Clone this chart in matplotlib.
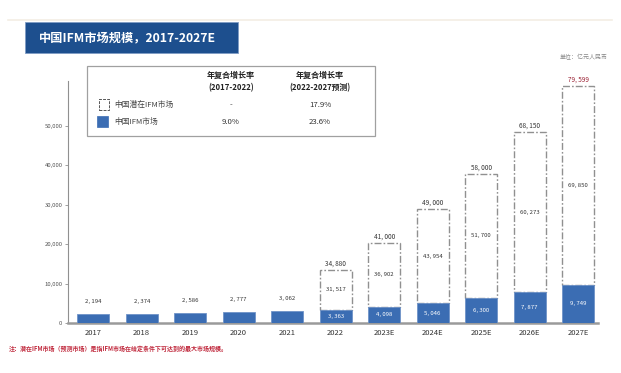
"""China IFM market size chart, 2017-2027E"""

import numpy as np
import matplotlib
matplotlib.use("Agg")
from matplotlib import pyplot as plt
from matplotlib.patches import Rectangle

plt.rcParams['font.family'] = ['Noto Sans CJK SC', 'DejaVu Sans']

# data
years = ["2017", "2018", "2019", "2020", "2021", "2022",
         "2023E", "2024E", "2025E", "2026E", "2027E"]
ifm = [2194, 2374, 2586, 2777, 3062, 3363, 4098, 5046, 6300, 7877, 9749]
potential = [None, None, None, None, None, 31517, 36902, 43954, 51700,
             60273, 69850]
total = [None, None, None, None, None, 34880, 41000, 49000, 58000,
         68150, 79599]
# the dashed boxes in the original are not drawn to scale:
# top of each box as it sits on the y axis
total_drawn = [None, None, None, None, None, 13400, 20400, 28900, 37900,
               48400, 60100]
yticks = [0, 10000, 20000, 30000, 40000, 50000]

BLUE = "#3b6db3"
NAVY = "#1d4f8e"
GREY = "#909090"
W, H = 621, 373


def fx(px):
    return px / W


def fy(py):
    return 1 - py / H


def fmt(v):
    return f"{v:,}".replace(",", ", ")


fig = plt.figure(figsize=(W / 100, H / 100), dpi=100)
ax = fig.add_axes([fx(68), fy(323), fx(598) - fx(68), fy(81) - fy(323)])

x = np.arange(len(years))
bw = 0.66
ax.bar(x, ifm, width=bw, color=BLUE, edgecolor="#6f93c8", linewidth=0.6,
       zorder=3)

for i, v in enumerate(ifm):
    if total[i] is None:
        ax.annotate(fmt(v), (i, v), xytext=(0, 9), textcoords="offset points",
                    ha="center", va="center", fontsize=4.3, color="#333333")
    else:
        ax.text(i, v / 2, fmt(v), ha="center", va="center", fontsize=4.3,
                color="white", zorder=4)
        top = total_drawn[i]
        ax.bar(i, top - v, bottom=v, width=bw, fill=False, edgecolor=GREY,
               linewidth=1.0, linestyle=(0, (5, 1.5, 1.2, 1.5)), zorder=2)
        ax.text(i, (v + top) / 2, fmt(potential[i]),
                ha="center", va="center", fontsize=4.3, color="#333333")
        col = "#9b2335" if i == len(years) - 1 else "#333333"
        ax.annotate(fmt(total[i]), (i, top),
                    xytext=(0, 4.5), textcoords="offset points",
                    ha="center", va="center", fontsize=4.6, color=col)

ax.set_xlim(-0.52, 10.41)
ax.set_ylim(0, 61400)
ax.set_xticks(x)
ax.set_xticklabels(years, fontsize=5.5, color="#333333")
ax.set_yticks(yticks)
ax.set_yticklabels([f"{t:,}" for t in yticks], fontsize=4.3, color="#555555")
ax.tick_params(axis="x", length=0, pad=4)
ax.tick_params(axis="y", length=2, width=0.6, color=GREY, pad=2)
for s in ("top", "right"):
    ax.spines[s].set_visible(False)
ax.spines["left"].set_color(GREY)
ax.spines["left"].set_linewidth(0.8)
ax.spines["bottom"].set_color("#9a9a9a")
ax.spines["bottom"].set_linewidth(1.8)

# header strip and title box
fig.add_artist(plt.Line2D([fx(8), fx(612)], [fy(20), fy(20)],
                          color="#f3eee4", linewidth=1.2))
fig.add_artist(Rectangle((fx(25), fy(53)), fx(238) - fx(25),
                         fy(22) - fy(53), facecolor=NAVY,
                         edgecolor="#7f9cc4", linewidth=0.6))
fig.text(fx(39), fy(37.5), "中国IFM市场规模，2017-2027E", color="white",
         fontsize=8.8, fontweight="bold", va="center", ha="left")
fig.text(fx(608), fy(57), "单位：亿元人民币", color="#888888", fontsize=4.3,
         ha="right", va="center")

# legend / CAGR table
fig.add_artist(Rectangle((fx(87), fy(136)), fx(375) - fx(87),
                         fy(66) - fy(136), facecolor="white",
                         edgecolor="#a0a0a0", linewidth=0.9))
for cx, period in ((231, "(2017-2022)"), (320, "(2022-2027预测)")):
    fig.text(fx(cx), fy(75), "年复合增长率", fontsize=5.8, ha="center",
             va="center", color="#222222", fontweight="bold")
    fig.text(fx(cx), fy(87.5), period, fontsize=5.6, ha="center", va="center",
             color="#222222", fontweight="bold")
fig.add_artist(Rectangle((fx(99), fy(110)), fx(10), fy(99) - fy(110),
                         facecolor="white", edgecolor="#555555",
                         linewidth=0.7, linestyle=(0, (3, 1.2))))
fig.add_artist(Rectangle((fx(97), fy(127)), fx(11), fy(116) - fy(127),
                         facecolor=BLUE, edgecolor=BLUE, linewidth=0.5))
rows = [("中国潜在IFM市场", "-", "17.9%", 105),
        ("中国IFM市场", "9.0%", "23.6%", 121.5)]
for name, c1, c2, ry in rows:
    fig.text(fx(114), fy(ry), name, fontsize=5.6, ha="left", va="center",
             color="#444444")
    fig.text(fx(231), fy(ry), c1, fontsize=5.6, ha="center", va="center",
             color="#333333")
    fig.text(fx(320), fy(ry), c2, fontsize=5.6, ha="center", va="center",
             color="#333333")

fig.text(fx(9), fy(349), "注：潜在IFM市场（预测市场）是指IFM市场在给定条件下可达到的最大市场规模。",
         fontsize=4.3, color="#c0283c", ha="left", va="center",
         fontweight="bold")

fig.savefig("out.png", dpi=100)
